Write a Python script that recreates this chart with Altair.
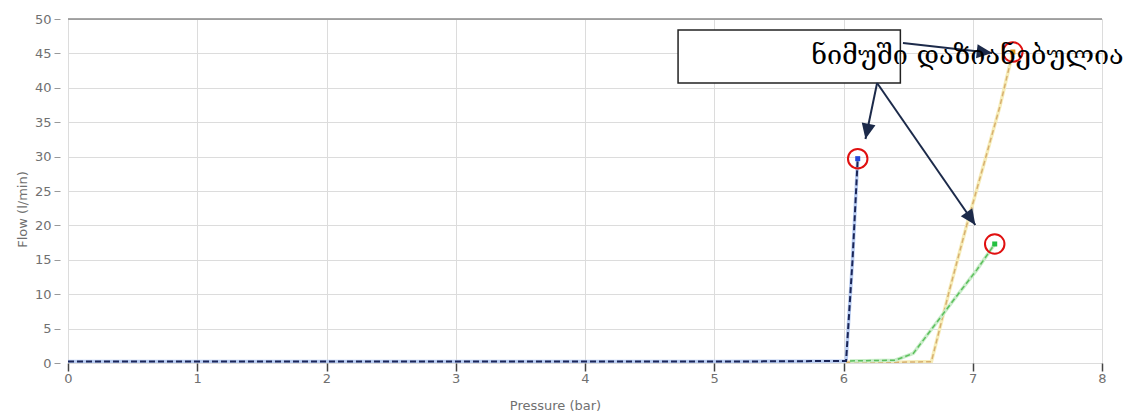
import math
import altair as alt
import pandas as pd

# ---- data ----
blue_x = [0.0, 1.0, 2.0, 3.0, 4.0, 5.0, 6.02, 6.07, 6.11]
blue_y = [0.2, 0.2, 0.2, 0.2, 0.2, 0.2, 0.3, 15.0, 29.7]

green_x = [6.05, 6.40, 6.54, 6.87, 7.03, 7.17]
green_y = [0.3, 0.4, 1.4, 9.6, 13.5, 17.3]

orange_x = [6.02, 6.40, 6.68, 6.82, 6.95, 7.08, 7.21, 7.31]
orange_y = [0.1, 0.1, 0.2, 10.6, 19.8, 28.5, 37.3, 45.2]

x_ticks = [0, 1, 2, 3, 4, 5, 6, 7, 8]
y_ticks = [0, 5, 10, 15, 20, 25, 30, 35, 40, 45, 50]

label_text = "ნიმუში დაზიანებულია"
# annotation box (data units)
box_x = [4.72, 6.44]
box_y = [40.7, 48.4]
text_pos = [5.75, 44.6]
# arrows: start x, start y, tip x, tip y (data units)
arrow_x0 = [6.46, 6.26, 6.26]
arrow_y0 = [46.5, 40.7, 40.7]
arrow_x1 = [7.15, 6.17, 7.02]
arrow_y1 = [45.06, 32.56, 20.06]

W, H = 1034, 344
XMAX, YMAX = 8, 50
PX = W / XMAX
PY = H / YMAX

xs = alt.Scale(domain=[0, XMAX], nice=False, zero=False)
ys = alt.Scale(domain=[0, YMAX], nice=False)

xaxis = alt.Axis(values=x_ticks, grid=True, gridColor="#dcdcdc", domain=False,
                 tickColor="#444", tickSize=8, tickWidth=1.5,
                 labelFont="DejaVu Sans", labelFontSize=13, labelColor="#707070",
                 labelPadding=1, title="Pressure (bar)", titleFont="DejaVu Sans",
                 titleFontSize=13, titleFontWeight="normal", titleColor="#707070",
                 titleX=487, titleY=42, titleAnchor="start", titleAlign="center",
                 titleBaseline="middle", labelFlush=False)
yaxis = alt.Axis(values=y_ticks, grid=True, gridColor="#dcdcdc", domain=False,
                 tickColor="#999", tickSize=6, offset=8,
                 labelFont="DejaVu Sans", labelFontSize=13, labelColor="#707070",
                 labelPadding=3, title="Flow (l/min)", titleFont="DejaVu Sans",
                 titleFontSize=13, titleFontWeight="normal", titleColor="#707070",
                 titleX=-38, titleY=190, titleAngle=270, titleAlign="center",
                 titleBaseline="middle", titleAnchor="start")

def X(field):
    return alt.X(field, type="quantitative", scale=xs, axis=xaxis)

def Y(field):
    return alt.Y(field, type="quantitative", scale=ys, axis=yaxis)

def series(xv, yv, name):
    return pd.DataFrame({"x": xv, "y": yv, "s": name, "o": list(range(len(xv)))})

blue = series(blue_x, blue_y, "blue")
green = series(green_x, green_y, "green")
orange = series(orange_x, orange_y, "orange")

ends = pd.DataFrame({
    "x": [blue_x[-1], green_x[-1], orange_x[-1]],
    "y": [blue_y[-1], green_y[-1], orange_y[-1]],
    "c": ["#2346d8", "#22c040", "#e0901a"],
})

def line(df, color, width, dash=None):
    kw = dict(color=color, strokeWidth=width, clip=True)
    if dash:
        kw["strokeDash"] = dash
    return alt.Chart(df).mark_line(**kw).encode(x=X("x"), y=Y("y"), order="o:Q")

top_border = alt.Chart(pd.DataFrame({"y": [YMAX]})).mark_rule(color="#8a8a8a", strokeWidth=1.5).encode(
    y=Y("y"))

layers = [
    line(blue, "#b8ccf2", 3.5),
    top_border,
    line(orange, "#f6ecb8", 3.5),
    line(orange, "#d7b070", 1.5, [5, 3]),
    line(green, "#c8ecc8", 3.5),
    line(green, "#5cbf5c", 1.5, [5, 3]),
    line(blue, "#1a2558", 2, [6, 3]),
]

markers = alt.Chart(ends).mark_point(shape="square", filled=True, size=25, opacity=1).encode(
    x=X("x"), y=Y("y"), color=alt.Color("c:N", scale=None))
rings = alt.Chart(ends).mark_point(shape="circle", filled=False, size=380, color="#e01010",
                                   strokeWidth=2, opacity=1).encode(x=X("x"), y=Y("y"))

box = alt.Chart(pd.DataFrame({"x": [box_x[0]], "x2": [box_x[1]], "y": [box_y[0]], "y2": [box_y[1]]})).mark_rect(
    fill="white", stroke="#222", strokeWidth=1.5).encode(
    x=X("x"), x2="x2:Q", y=Y("y"), y2="y2:Q")

arrows = pd.DataFrame({"x0": arrow_x0, "y0": arrow_y0, "x1": arrow_x1, "y1": arrow_y1})
arrows["ang"] = [
    (math.degrees(math.atan2((b - a) * PX, (d - c) * PY)) + 360) % 360
    for a, b, c, d in zip(arrows.x0, arrows.x1, arrows.y0, arrows.y1)
]
arrow_lines = alt.Chart(arrows).mark_rule(color="#1c2a4a", strokeWidth=2).encode(
    x=X("x0"), y=Y("y0"), x2="x1:Q", y2="y1:Q")
arrow_heads = alt.Chart(arrows).mark_point(
    shape="M0,0L-0.5,1.1L0.5,1.1Z", filled=True, size=784, color="#1c2a4a", opacity=1,
    strokeWidth=0).encode(
    x=X("x1"), y=Y("y1"), angle=alt.Angle("ang:Q", scale=None))

text = alt.Chart(pd.DataFrame({"x": [text_pos[0]], "y": [text_pos[1]], "t": [label_text]})).mark_text(
    font="DejaVu Serif", fontSize=27, color="#000", align="left", baseline="middle").encode(
    x=X("x"), y=Y("y"), text="t:N")

chart = alt.layer(*layers, markers, rings, box, arrow_lines, arrow_heads, text).properties(
    width=W, height=H,
    autosize=alt.AutoSizeParams(type="none"),
    padding={"left": 68, "top": 19, "right": 33, "bottom": 55},
).configure_view(stroke=None).configure(background="white")

chart.save("out.html", embed_options={"renderer": "svg", "actions": False})
